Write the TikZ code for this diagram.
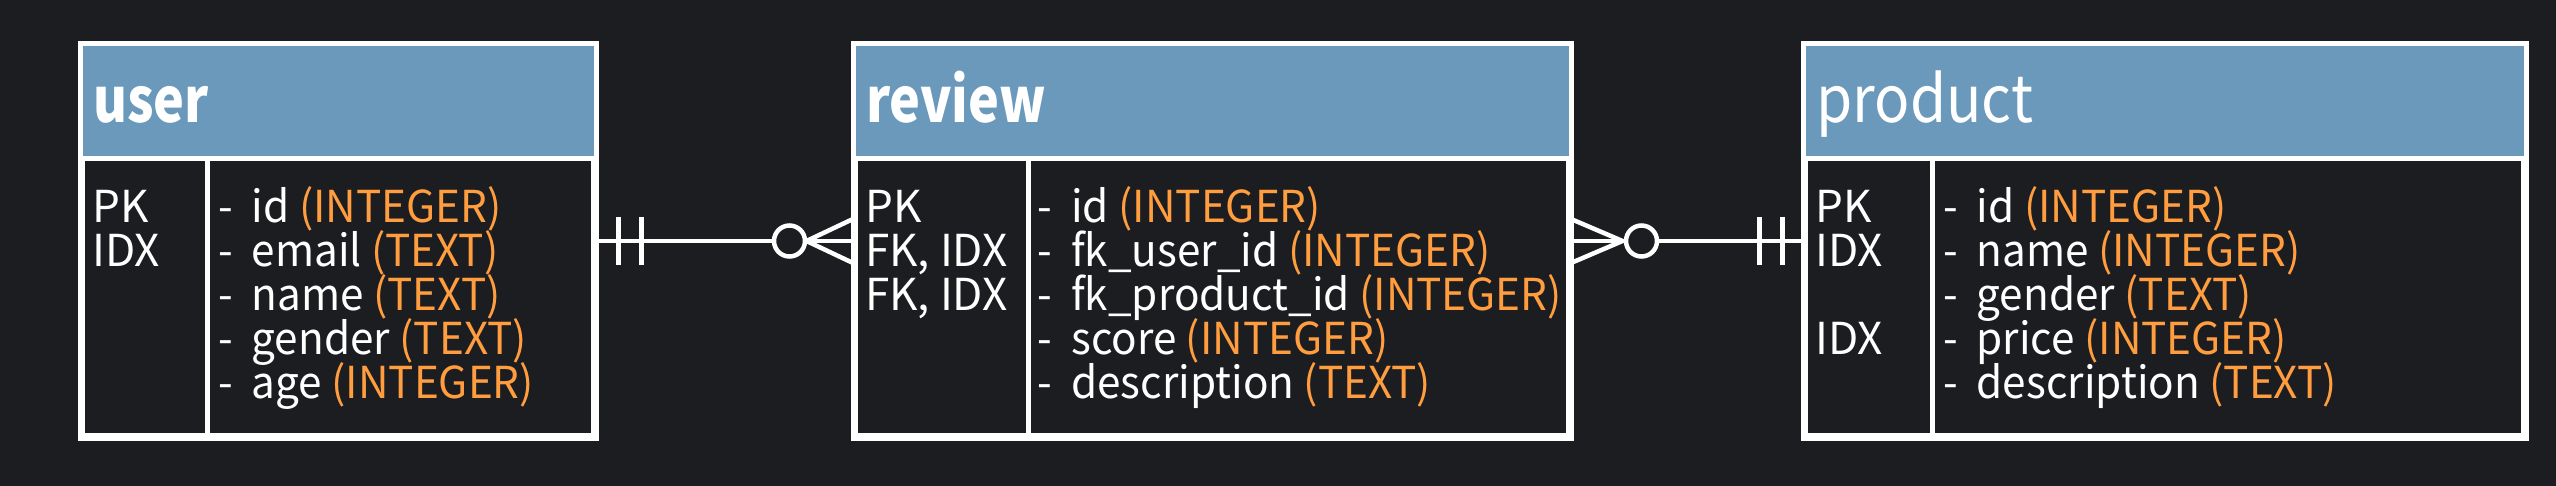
\documentclass[tikz,border=0pt]{standalone}
\usepackage{fontspec}
\setmainfont{Noto Sans CJK KR}
\newfontfamily\titlefont{Noto Sans CJK KR}[FakeStretch=0.84]
\newfontfamily\ptitlefont{Noto Sans CJK KR}[FakeStretch=0.9]
\newfontfamily\fieldfont{Noto Sans CJK KR}[FakeStretch=0.96]
\usetikzlibrary{calc}
\definecolor{bgc}{HTML}{1B1D21}
\definecolor{hdrc}{HTML}{6A99BC}
\definecolor{typc}{HTML}{FF9D3F}
\tikzset{
  tablebox/.style={draw=white, line width=5pt, rectangle, minimum height=389pt, inner sep=0pt},
  sepline/.style={draw=white, line width=5pt},
  titletext/.style={anchor=base west, inner sep=0pt, text=white, font=\titlefont\fontsize{62}{62}\selectfont\bfseries},
  titletextreg/.style={anchor=base west, inner sep=0pt, text=white, font=\ptitlefont\fontsize{65}{65}\selectfont},
  keytext/.style={anchor=base west, inner sep=0pt, text=white, font=\fontsize{44}{44}\selectfont},
  fieldtext/.style={anchor=base west, inner sep=0pt, text=white, font=\fieldfont\fontsize{44}{44}\selectfont},
  conn/.style={draw=white, line width=4.5pt},
  ring/.style={draw=white, line width=4.5pt, fill=bgc},
}
\newcommand{\ty}[1]{\textcolor{typc}{(#1)}}
\begin{document}
\begin{tikzpicture}[x=1pt,y=-1pt]
\fill[bgc] (0,0) rectangle (2556,486);
\useasboundingbox (0,0) rectangle (2556,486);
% tables
\node[tablebox, minimum width=511pt] (user) at (338,241) {};
\node[tablebox, minimum width=713pt] (review) at (1212,241) {};
\node[tablebox, minimum width=718pt] (product) at (2164.5,241) {};
\foreach \t/\d in {user/207, review/1028, product/1932}{
  \fill[hdrc] ($(\t.north west)+(2.5,2.5)$) rectangle ($(\t.east |- 0,159)+(-2.5,0)$);
  \draw[sepline] (\t.west |- 0,159) -- (\t.east |- 0,159);
  \draw[sepline] (\d,159) -- (\d,0 |- \t.south);
  \draw[draw=white, line width=5pt] (\t.north west) rectangle (\t.south east);
}
% titles
\node[titletext] (tuser) at (93,123) {user};
\node[titletext] (treview) at (866,123) {review};
\node[titletextreg] (tproduct) at (1816,123) {product};
% user
\node[keytext] (uk1) at (92,222.7) {PK};
\node[keytext] (uk2) at (92,266.7) {IDX};
\node[fieldtext] (uf1) at (218,222.7) {-\ \ id \ty{INTEGER}};
\node[fieldtext] (uf2) at (218,266.7) {-\ \ email \ty{TEXT}};
\node[fieldtext] (uf3) at (218,310.7) {-\ \ name \ty{TEXT}};
\node[fieldtext] (uf4) at (218,354.7) {-\ \ gender \ty{TEXT}};
\node[fieldtext] (uf5) at (218,398.7) {-\ \ age \ty{INTEGER}};
% review
\node[keytext] (rk1) at (865,222.7) {PK};
\node[keytext] (rk2) at (865,266.7) {FK, IDX};
\node[keytext] (rk3) at (865,310.7) {FK, IDX};
\node[fieldtext] (rf1) at (1037.5,222.7) {-\ \ id \ty{INTEGER}};
\node[fieldtext] (rf2) at (1037.5,266.7) {-\ \ fk\_user\_id \ty{INTEGER}};
\node[fieldtext] (rf3) at (1037.5,310.7) {-\ \ fk\_product\_id \ty{INTEGER}};
\node[fieldtext] (rf4) at (1037.5,354.7) {-\ \ score \ty{INTEGER}};
\node[fieldtext] (rf5) at (1037.5,398.7) {-\ \ description \ty{TEXT}};
% product
\node[keytext] (pk1) at (1815,222.7) {PK};
\node[keytext] (pk2) at (1815,266.7) {IDX};
\node[keytext] (pk4) at (1815,354.7) {IDX};
\node[fieldtext] (pf1) at (1943,222.7) {-\ \ id \ty{INTEGER}};
\node[fieldtext] (pf2) at (1943,266.7) {-\ \ name \ty{INTEGER}};
\node[fieldtext] (pf3) at (1943,310.7) {-\ \ gender \ty{TEXT}};
\node[fieldtext] (pf4) at (1943,354.7) {-\ \ price \ty{INTEGER}};
\node[fieldtext] (pf5) at (1943,398.7) {-\ \ description \ty{TEXT}};
% connector user -- review (one and only one to zero or many)
\draw[conn] (user.east) -- (review.west);
\draw[conn] ($(user.east)+(22.5,-24)$) -- ($(user.east)+(22.5,24)$);
\draw[conn] ($(user.east)+(45.5,-24)$) -- ($(user.east)+(45.5,24)$);
\draw[conn] ($(review.west)+(0,-22)$) -- ($(review.west)+(-46.5,0)$) -- ($(review.west)+(0,22)$);
\draw[ring] ($(review.west)+(-63.5,0)$) circle (15.5);
% connector review -- product
\draw[conn] (review.east) -- (product.west);
\draw[conn] ($(review.east)+(0,-22)$) -- ($(review.east)+(51.5,0)$) -- ($(review.east)+(0,22)$);
\draw[ring] ($(review.east)+(70.5,0)$) circle (15.5);
\draw[conn] ($(product.west)+(-43.5,-24)$) -- ($(product.west)+(-43.5,24)$);
\draw[conn] ($(product.west)+(-20.5,-24)$) -- ($(product.west)+(-20.5,24)$);
\end{tikzpicture}
\end{document}
